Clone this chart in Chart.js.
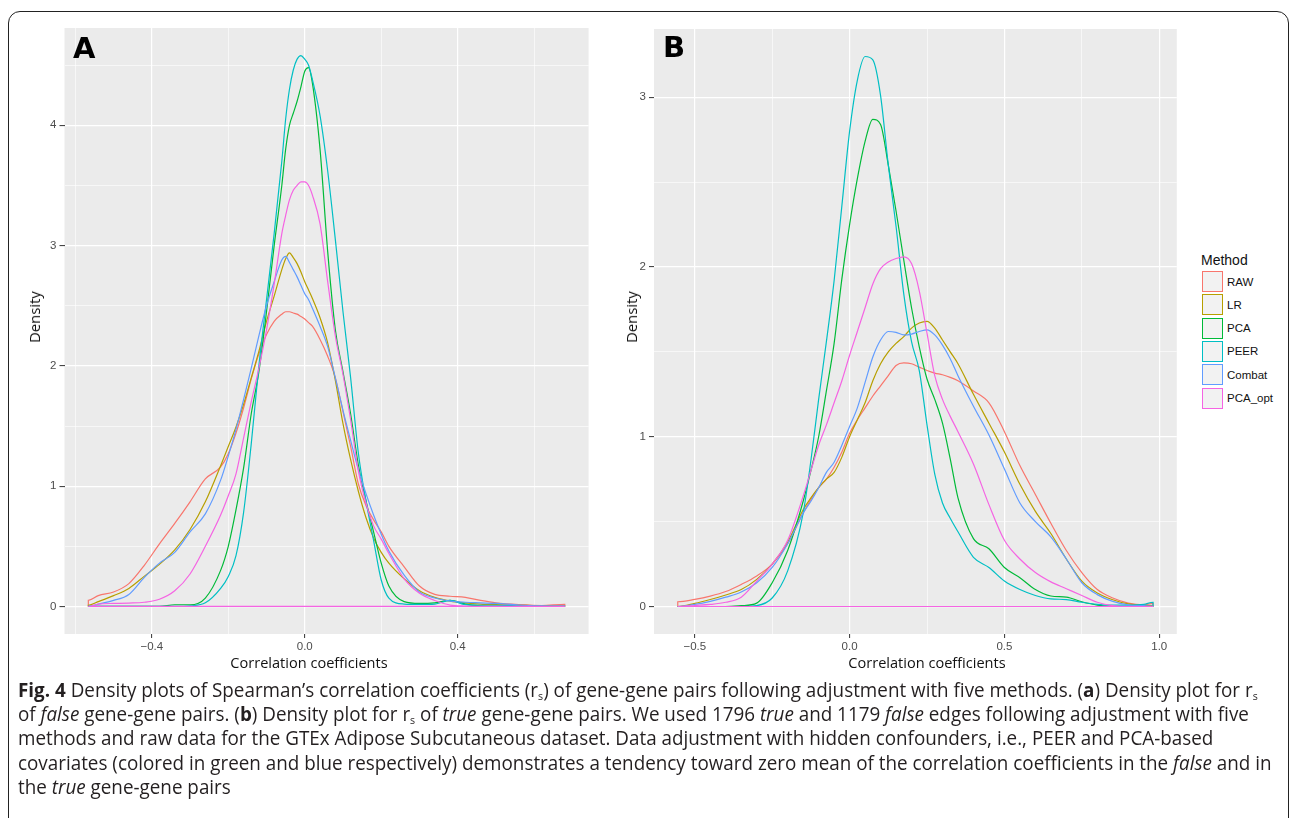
<!DOCTYPE html>
<html>
<head>
<meta charset="utf-8">
<script src="https://cdn.jsdelivr.net/npm/chart.js@4.4.1/dist/chart.umd.min.js"></script>
<style>
html, body { margin: 0; padding: 0; background: #fff; }
body { width: 1290px; height: 818px; overflow: hidden; position: relative; font-family: "Liberation Sans", Arial, sans-serif; }
.frame { position: absolute; left: 8px; top: 11px; width: 1281px; height: 860px; border: 1.5px solid #222; border-radius: 12px; box-sizing: border-box; }
canvas { position: absolute; top: 0; }
#chartA { left: 0; }
#chartB { left: 600px; }
.plab { position: absolute; font: bold 29px "DejaVu Sans", sans-serif; line-height: 1; color: #000; }
.atitle { position: absolute; white-space: nowrap; font: 14px "Open Sans", sans-serif; color: #111; line-height: 1; }
.lgtitle { position: absolute; left: 1201px; top: 252px; font: 14px "Liberation Sans", Arial, sans-serif; color: #111; line-height: 16px; }
.lgkey { position: absolute; left: 1202px; width: 21px; height: 21px; background: #f2f2f2; box-sizing: border-box; border: 1.3px solid; }
.lglab { position: absolute; left: 1227px; font: 11.5px "Liberation Sans", Arial, sans-serif; color: #111; line-height: 14px; }
#caption { position: absolute; left: 18px; top: 0; transform-origin: 0 0; }
#caption .ln { position: absolute; left: 0; white-space: nowrap; font: 19.5px "Liberation Sans Narrow", "Open Sans", sans-serif; color: #231f20; line-height: 22px; }
#caption sub { font-size: 11px; vertical-align: -3px; line-height: 0; }
</style>
</head>
<body>
<div class="frame"></div>
<canvas id="chartA" width="600" height="680"></canvas>
<canvas id="chartB" width="590" height="680"></canvas>
<div class="plab" style="left:73px;top:34px;">A</div>
<div class="plab" style="left:663px;top:33px;">B</div>
<div id="titles"></div>
<div id="legend"></div>
<div id="caption">
  <div class="ln" style="top:678.5px;"><b>Fig. 4</b> Density plots of Spearman’s correlation coefficients (r<sub>s</sub>) of gene-gene pairs following adjustment with five methods. (<b>a</b>) Density plot for r<sub>s</sub></div>
  <div class="ln" style="top:702.5px;">of <i>false</i> gene-gene pairs. (<b>b</b>) Density plot for r<sub>s</sub> of <i>true</i> gene-gene pairs. We used 1796 <i>true</i> and 1179 <i>false</i> edges following adjustment with five</div>
  <div class="ln" style="top:727px;">methods and raw data for the GTEx Adipose Subcutaneous dataset. Data adjustment with hidden confounders, i.e., PEER and PCA-based</div>
  <div class="ln" style="top:751.5px;">covariates (colored in green and blue respectively) demonstrates a tendency toward zero mean of the correlation coefficients in the <i>false</i> and in</div>
  <div class="ln" style="top:776px;">the <i>true</i> gene-gene pairs</div>
</div>
<script>
const methods = ['RAW', 'LR', 'PCA', 'PEER', 'Combat', 'PCA_opt'];
const colors = ['#F8766D', '#B79F00', '#00BA38', '#00BFC4', '#619CFF', '#F564E3'];

// (A) false gene-gene pairs
const xA = [-0.566, -0.54, -0.5, -0.46, -0.42, -0.38, -0.34, -0.3, -0.26, -0.22, -0.2, -0.18, -0.16, -0.14, -0.12, -0.1, -0.08, -0.06, -0.05, -0.04, -0.03, -0.02, -0.01, 0, 0.01, 0.02, 0.04, 0.06, 0.08, 0.1, 0.12, 0.14, 0.16, 0.18, 0.2, 0.22, 0.26, 0.3, 0.34, 0.38, 0.42, 0.46, 0.5, 0.56, 0.62, 0.68];
const rawA    = [0.05, 0.09, 0.12, 0.19, 0.34, 0.52, 0.69, 0.87, 1.06, 1.16, 1.27, 1.44, 1.65, 1.89, 2.10, 2.26, 2.37, 2.43, 2.45, 2.45, 2.44, 2.43, 2.41, 2.39, 2.36, 2.33, 2.22, 2.08, 1.90, 1.62, 1.33, 1.02, 0.84, 0.72, 0.62, 0.50, 0.33, 0.17, 0.10, 0.085, 0.075, 0.05, 0.03, 0.015, 0.008, 0.017];
const lrA     = [0.01, 0.04, 0.09, 0.15, 0.25, 0.35, 0.47, 0.64, 0.87, 1.17, 1.33, 1.49, 1.68, 1.90, 2.12, 2.37, 2.58, 2.80, 2.89, 2.94, 2.90, 2.85, 2.78, 2.70, 2.63, 2.56, 2.40, 2.19, 1.88, 1.52, 1.22, 0.96, 0.74, 0.57, 0.45, 0.36, 0.23, 0.13, 0.075, 0.045, 0.03, 0.02, 0.015, 0.01, 0.005, 0.003];
const pcaA    = [0, 0, 0, 0, 0, 0, 0.014, 0.014, 0.07, 0.30, 0.50, 0.80, 1.15, 1.60, 1.95, 2.45, 3.00, 3.50, 3.80, 4.00, 4.10, 4.20, 4.32, 4.45, 4.48, 4.35, 3.80, 2.95, 2.30, 1.95, 1.60, 1.18, 0.88, 0.62, 0.36, 0.17, 0.04, 0.025, 0.03, 0.05, 0.02, 0.005, 0, 0, 0, 0];
const peerA   = [0, 0, 0, 0, 0, 0, 0, 0.005, 0.03, 0.15, 0.25, 0.42, 0.78, 1.35, 2.0, 2.55, 3.10, 3.70, 4.05, 4.30, 4.46, 4.55, 4.58, 4.55, 4.50, 4.38, 4.08, 3.62, 3.05, 2.45, 1.90, 1.28, 0.88, 0.55, 0.22, 0.07, 0.02, 0.017, 0.02, 0.05, 0.015, 0.01, 0.01, 0.005, 0, 0];
const combatA = [0, 0.02, 0.05, 0.10, 0.24, 0.36, 0.45, 0.62, 0.77, 1.05, 1.25, 1.47, 1.72, 1.98, 2.25, 2.50, 2.70, 2.88, 2.91, 2.86, 2.80, 2.74, 2.67, 2.60, 2.55, 2.48, 2.33, 2.16, 1.90, 1.63, 1.38, 1.14, 0.94, 0.76, 0.60, 0.46, 0.26, 0.12, 0.07, 0.045, 0.035, 0.03, 0.025, 0.012, 0.005, 0.002];
const pcaOptA = [0, 0.02, 0.025, 0.028, 0.035, 0.06, 0.13, 0.27, 0.50, 0.76, 0.92, 1.10, 1.40, 1.70, 1.98, 2.30, 2.68, 3.10, 3.25, 3.38, 3.46, 3.50, 3.53, 3.53, 3.50, 3.42, 3.18, 2.70, 2.25, 1.93, 1.55, 1.13, 0.86, 0.67, 0.56, 0.44, 0.23, 0.11, 0.05, 0.012, 0.003, 0, 0, 0, 0, 0];

// (B) true gene-gene pairs
const xB = [-0.555, -0.5, -0.45, -0.4, -0.35, -0.3, -0.25, -0.2, -0.15, -0.125, -0.1, -0.075, -0.05, -0.025, 0, 0.025, 0.05, 0.075, 0.1, 0.125, 0.15, 0.175, 0.2, 0.225, 0.25, 0.275, 0.3, 0.325, 0.35, 0.4, 0.45, 0.5, 0.55, 0.6, 0.65, 0.7, 0.75, 0.8, 0.85, 0.9, 0.95, 0.98];
const rawB    = [0.028, 0.042, 0.061, 0.088, 0.13, 0.18, 0.25, 0.37, 0.55, 0.63, 0.70, 0.75, 0.82, 0.91, 1.02, 1.10, 1.17, 1.24, 1.30, 1.36, 1.42, 1.435, 1.43, 1.41, 1.39, 1.375, 1.365, 1.35, 1.33, 1.27, 1.20, 1.03, 0.83, 0.66, 0.49, 0.33, 0.20, 0.10, 0.05, 0.02, 0.01, 0.018];
const lrB     = [0, 0.018, 0.041, 0.068, 0.10, 0.16, 0.25, 0.38, 0.57, 0.64, 0.70, 0.75, 0.79, 0.88, 1.0, 1.10, 1.20, 1.33, 1.43, 1.50, 1.55, 1.59, 1.64, 1.67, 1.68, 1.64, 1.57, 1.50, 1.43, 1.25, 1.08, 0.91, 0.72, 0.56, 0.43, 0.28, 0.15, 0.08, 0.04, 0.015, 0.006, 0.005];
const pcaB    = [0, 0, 0, 0, 0.005, 0.02, 0.14, 0.33, 0.62, 0.80, 1.0, 1.27, 1.55, 1.93, 2.25, 2.52, 2.74, 2.87, 2.84, 2.60, 2.33, 2.04, 1.76, 1.53, 1.34, 1.22, 1.08, 0.87, 0.64, 0.40, 0.34, 0.23, 0.17, 0.10, 0.062, 0.055, 0.028, 0.008, 0, 0, 0, 0];
const peerB   = [0, 0, 0, 0, 0, 0.005, 0.05, 0.21, 0.55, 0.86, 1.22, 1.56, 1.92, 2.36, 2.80, 3.10, 3.24, 3.22, 3.01, 2.60, 2.24, 1.84, 1.56, 1.39, 1.07, 0.78, 0.61, 0.52, 0.44, 0.29, 0.23, 0.15, 0.10, 0.065, 0.045, 0.041, 0.025, 0.013, 0.008, 0.008, 0.012, 0.025];
const combatB = [0, 0.012, 0.03, 0.055, 0.085, 0.14, 0.23, 0.37, 0.55, 0.62, 0.70, 0.79, 0.85, 0.95, 1.06, 1.17, 1.32, 1.47, 1.57, 1.62, 1.615, 1.60, 1.605, 1.62, 1.63, 1.60, 1.54, 1.46, 1.36, 1.18, 1.01, 0.81, 0.61, 0.50, 0.41, 0.28, 0.14, 0.07, 0.03, 0.01, 0.005, 0.003];
const pcaOptB = [0, 0.006, 0.012, 0.025, 0.055, 0.15, 0.25, 0.39, 0.65, 0.80, 0.95, 1.07, 1.20, 1.33, 1.48, 1.62, 1.76, 1.90, 1.99, 2.03, 2.05, 2.06, 2.02, 1.86, 1.61, 1.36, 1.22, 1.12, 1.03, 0.84, 0.60, 0.39, 0.28, 0.20, 0.145, 0.105, 0.065, 0.025, 0.005, 0, 0, 0];

// ticks (empty label = minor grid line)
const xTicksA = [-0.6, -0.4, -0.2, 0, 0.2, 0.4, 0.6];
const xLabelsA = ['', '\u22120.4', '', '0.0', '', '0.4', ''];
const yTicksA = [0, 0.5, 1, 1.5, 2, 2.5, 3, 3.5, 4, 4.5];
const yLabelsA = ['0', '', '1', '', '2', '', '3', '', '4', ''];
const xTicksB = [-0.5, -0.25, 0, 0.25, 0.5, 0.75, 1];
const xLabelsB = ['\u22120.5', '', '0.0', '', '0.5', '', '1.0'];
const yTicksB = [0, 0.5, 1, 1.5, 2, 2.5, 3];
const yLabelsB = ['0', '', '1', '', '2', '', '3'];

const panelBg = {
    id: 'panelBg',
    beforeDraw(chart) {
        const { ctx, chartArea: a } = chart;
        ctx.save();
        ctx.fillStyle = '#EBEBEB';
        ctx.fillRect(a.left, a.top, a.right - a.left, a.bottom - a.top);
        ctx.restore();
    }
};

function drawPanel(id, xs, series, xTicks, xLabels, yTicks, yLabels, box) {
    const lo = xs[0], hi = xs[xs.length - 1];
    const ymax = Math.max(...series.flat());
    const xpad = (hi - lo) * 0.05, ypad = ymax * 0.05;
    const tickFont = { family: '"Liberation Sans", Arial, sans-serif', size: 11.5 };
    const last = series.length - 1;

    const datasets = series.map((ys, i) => {
        const pts = [{ x: lo, y: 0 }, ...xs.map((x, j) => ({ x, y: ys[j] })), { x: hi, y: 0 }];
        // only the top-most polygon shows its baseline, as in ggplot
        if (i === last) pts.push({ x: lo, y: 0 });
        return {
            label: methods[i],
            data: pts,
            borderColor: colors[i],
            borderWidth: 1.2,
            pointRadius: 0,
            fill: false,
            cubicInterpolationMode: 'monotone',
            order: methods.length - 1 - i
        };
    });

    new Chart(document.getElementById(id), {
        type: 'line',
        data: { datasets },
        plugins: [panelBg],
        options: {
            responsive: false,
            animation: false,
            layout: { padding: { top: box.top, right: box.right, left: 0, bottom: 0 } },
            plugins: { legend: { display: false }, tooltip: { enabled: false } },
            scales: {
                x: {
                    type: 'linear',
                    min: lo - xpad,
                    max: hi + xpad,
                    afterBuildTicks: s => { s.ticks = xTicks.map(v => ({ value: v })); },
                    afterFit: s => { s.height = box.bottom; },
                    ticks: { callback: (v, i) => xLabels[i], color: '#4d4d4d', font: tickFont, padding: 2, maxRotation: 0, autoSkip: false },
                    grid: {
                        color: '#ffffff',
                        lineWidth: c => xLabels[c.index] ? 1.2 : 0.6,
                        tickColor: c => xLabels[c.index] ? '#333333' : 'rgba(0,0,0,0)',
                        tickLength: 4,
                        tickWidth: 1
                    },
                    border: { display: false }
                },
                y: {
                    type: 'linear',
                    min: -ypad,
                    max: ymax + ypad,
                    afterBuildTicks: s => { s.ticks = yTicks.map(v => ({ value: v })); },
                    afterFit: s => { s.width = box.left; },
                    ticks: { callback: (v, i) => yLabels[i], color: '#4d4d4d', font: tickFont, padding: 3, autoSkip: false },
                    grid: {
                        color: '#ffffff',
                        lineWidth: c => yLabels[c.index] ? 1.2 : 0.6,
                        tickColor: c => yLabels[c.index] ? '#333333' : 'rgba(0,0,0,0)',
                        tickLength: 5,
                        tickWidth: 1
                    },
                    border: { display: false }
                }
            }
        }
    });
}

drawPanel('chartA', xA, [rawA, lrA, pcaA, peerA, combatA, pcaOptA], xTicksA, xLabelsA, yTicksA, yLabelsA,
    { left: 64.5, top: 28, right: 11.4, bottom: 46 });
drawPanel('chartB', xB, [rawB, lrB, pcaB, peerB, combatB, pcaOptB], xTicksB, xLabelsB, yTicksB, yLabelsB,
    { left: 54, top: 29, right: 13.2, bottom: 46 });

// axis titles
function addTitle(text, cx, cy, width, rot) {
    const el = document.createElement('div');
    el.className = 'atitle';
    el.textContent = text;
    document.getElementById('titles').appendChild(el);
    const s = width / el.offsetWidth;
    el.style.left = cx + 'px';
    el.style.top = cy + 'px';
    el.style.transform = `translate(-50%,-50%) rotate(${rot}deg) scaleX(${s})`;
}
addTitle('Correlation coefficients', 308.5, 662.5, 157, 0);
addTitle('Correlation coefficients', 927, 662.5, 157, 0);
addTitle('Density', 35, 316.5, 52, -90);
addTitle('Density', 631.5, 316.5, 52, -90);

// legend
const lg = document.getElementById('legend');
lg.innerHTML = '<div class="lgtitle">Method</div>' + methods.map((m, i) => `
    <div class="lgkey" style="top:${271 + i * 23.3}px;border-color:${colors[i]}"></div>
    <div class="lglab" style="top:${274.5 + i * 23.3}px">${m}</div>`).join('');

// caption: fit the long 4th line to its width in the figure
const cap = document.getElementById('caption');
const lines = cap.querySelectorAll('.ln');
const s = 1254 / lines[3].offsetWidth;
cap.style.transform = `scaleX(${s})`;
</script>
</body>
</html>
